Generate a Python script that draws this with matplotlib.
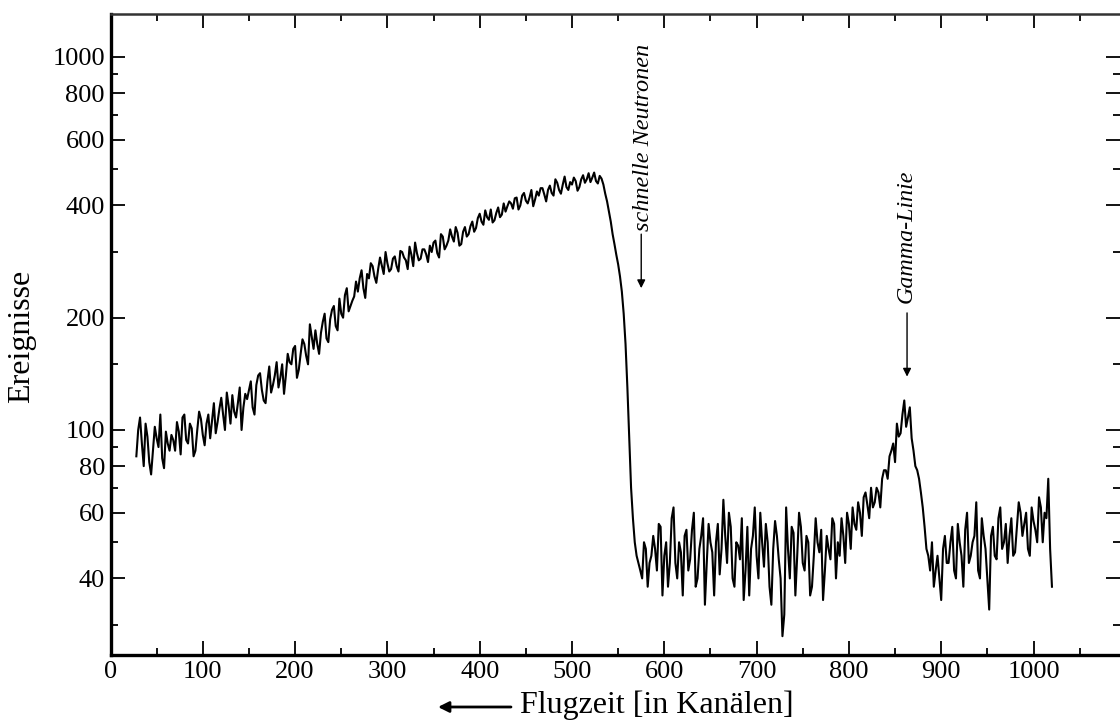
import numpy as np
import matplotlib
matplotlib.use("Agg")
import matplotlib.pyplot as plt
from matplotlib.ticker import FixedLocator, NullFormatter

plt.rcParams['font.family'] = ['Liberation Serif', 'DejaVu Serif']

# ---- data ----
# counts at channels 28, 32, 36, ... 1020
counts_a = [
    85, 108, 80, 96, 76, 102, 90, 84, 99, 88,
    94, 105, 86, 110, 92, 101, 88, 112, 97, 104,
    95, 118, 105, 122, 100, 116, 124, 108, 130, 115,
    121, 135, 110, 140, 128, 118, 148, 132, 152, 138,
    125, 160, 150, 168, 145, 175, 158, 192, 165, 170,
    182, 205, 172, 210, 190, 225, 200, 240, 215, 228,
    235, 268, 226, 255, 275, 248, 290, 262, 280, 270,
    292, 266, 300, 285, 310, 275, 298, 288, 305, 282,
    300, 322, 290, 330, 312, 345, 320, 338, 315, 350,
    335, 362, 348, 380, 355, 372, 390, 365, 395, 378,
    385, 410, 392, 420, 400, 432, 405, 440, 415, 425,
    445, 410, 452, 425, 460, 430, 478, 440, 455, 465,
    448, 482, 470, 462, 490, 458, 472, 430, 385, 335,
    295, 258, 205, 130, 70, 50, 44, 40, 48, 44,
    52, 42, 55, 46, 38, 58, 44, 50, 36, 54,
    45, 60, 40, 52, 34, 56, 47, 50, 41, 65,
    44, 55, 38, 49, 58, 42, 36, 52, 46, 60,
    43, 50, 34, 57, 45, 28, 62, 40, 53, 46,
    55, 42, 50, 38, 58, 47, 35, 52, 45, 56,
    50, 58, 44, 56, 62, 54, 60, 66, 63, 70,
    64, 68, 74, 78, 85, 92, 104, 98, 120, 108,
    95, 80, 74, 62, 48, 42, 38, 46, 35, 52,
    44, 55, 40, 50, 38, 60, 46, 52, 42, 58,
    48, 33, 55, 45, 62, 50, 44, 58, 47, 64,
    52, 60, 46, 57, 50, 62, 60, 74, 38,
]
# counts at channels 30, 34, 38, ... 1018
counts_b = [
    100, 92, 104, 82, 88, 95, 110, 79, 92, 97,
    88, 99, 108, 94, 104, 85, 100, 107, 91, 110,
    106, 98, 114, 110, 126, 104, 112, 118, 100, 125,
    128, 115, 132, 142, 120, 135, 126, 140, 130, 150,
    140, 152, 165, 138, 160, 170, 150, 178, 185, 160,
    195, 176, 198, 215, 185, 205, 230, 208, 222, 250,
    255, 240, 262, 280, 258, 270, 276, 300, 266, 288,
    275, 302, 290, 270, 295, 318, 285, 305, 296, 312,
    318, 298, 335, 305, 322, 330, 350, 312, 340, 330,
    352, 340, 370, 362, 388, 366, 360, 382, 372, 405,
    398, 405, 418, 390, 425, 412, 420, 398, 436, 445,
    428, 440, 432, 470, 440, 455, 448, 462, 475, 438,
    470, 460, 488, 475, 465, 480, 455, 410, 362, 315,
    278, 235, 170, 95, 58, 46, 42, 50, 38, 46,
    48, 56, 36, 50, 44, 62, 40, 47, 52, 42,
    54, 38, 48, 58, 44, 50, 36, 56, 48, 52,
    60, 40, 50, 45, 35, 55, 48, 62, 40, 50,
    56, 38, 48, 52, 40, 32, 48, 55, 36, 60,
    44, 52, 36, 46, 50, 54, 42, 48, 58, 40,
    46, 52, 60, 48, 56, 64, 52, 68, 58, 62,
    70, 62, 78, 74, 88, 82, 96, 110, 102, 115,
    88, 78, 68, 55, 46, 50, 42, 40, 48, 44,
    50, 42, 56, 46, 54, 44, 50, 64, 40, 52,
    40, 52, 46, 58, 48, 56, 52, 46, 55, 60,
    56, 48, 62, 54, 66, 50, 58, 48,
]
ch_a = 28 + 4 * np.arange(len(counts_a))
ch_b = 30 + 4 * np.arange(len(counts_b))
channels = np.concatenate([ch_a, ch_b])
counts = np.concatenate([counts_a, counts_b])
order = np.argsort(channels)
channels, counts = channels[order], counts[order]

y_major = [40, 60, 80, 100, 200, 400, 600, 800, 1000]
y_minor = [30, 50, 70, 90, 150, 300, 500, 700, 900]
x_major = [0, 100, 200, 300, 400, 500, 600, 700, 800, 900, 1000]
x_minor = [50, 150, 250, 350, 450, 550, 650, 750, 850, 950, 1050]

# ---- figure ----
W, H = 1120, 722
fig = plt.figure(figsize=(W / 100, H / 100), dpi=100)
left_px, right_px, top_px, bot_px = 110.5, 1120, 14, 655
ax = fig.add_axes([left_px / W, (H - bot_px) / H,
                   (right_px - left_px) / W, (bot_px - top_px) / H])

ax.plot(channels, counts, color='black', lw=1.5)

ax.set_yscale('log')
ax.set_xlim(0, (right_px - left_px) / 0.923)
ax.set_ylim(24.93, 1304)

ax.yaxis.set_major_locator(FixedLocator(y_major))
ax.yaxis.set_minor_locator(FixedLocator(y_minor))
ax.set_yticklabels([str(v) for v in y_major])
ax.yaxis.set_minor_formatter(NullFormatter())
ax.xaxis.set_major_locator(FixedLocator(x_major))
ax.xaxis.set_minor_locator(FixedLocator(x_minor))
ax.set_xticklabels([str(v) for v in x_major])

ax.tick_params(which='both', direction='in', top=True, right=True,
               labelsize=19, width=1.3, color='black')
ax.tick_params(which='major', length=10, pad=4)
ax.tick_params(which='minor', length=5)

ax.spines['left'].set_linewidth(2.4)
ax.spines['bottom'].set_linewidth(2.4)
ax.spines['top'].set_linewidth(1.8)
ax.spines['top'].set_color('#333333')
ax.spines['right'].set_visible(False)

# annotations
ax.text(578, 342, 'schnelle Neutronen', rotation=90, style='italic',
        fontsize=17.5, ha='center', va='bottom')
ax.annotate('', xy=(575, 240), xytext=(575, 335),
            arrowprops=dict(arrowstyle='-|>', lw=1.0, color='black',
                            shrinkA=0, shrinkB=0, mutation_scale=12))
ax.text(862, 219, 'Gamma-Linie', rotation=90, style='italic',
        fontsize=17.3, ha='center', va='bottom')
ax.annotate('', xy=(863, 139), xytext=(863, 206),
            arrowprops=dict(arrowstyle='-|>', lw=1.0, color='black',
                            shrinkA=0, shrinkB=0, mutation_scale=12))

# axis labels
fig.text(22 / W, 1 - 336 / H, 'Ereignisse', rotation=90, fontsize=23,
         ha='center', va='center')
fig.text(520 / W, (H - 713) / H, 'Flugzeit [in Kanälen]', fontsize=23,
         ha='left', va='baseline')
fig.add_artist(matplotlib.patches.FancyArrowPatch(
    (511 / W, (H - 707) / H), (438 / W, (H - 707) / H),
    transform=fig.transFigure, arrowstyle='-|>', lw=2.0, color='black',
    mutation_scale=16, shrinkA=0, shrinkB=0))

fig.savefig('out.png', dpi=100)
